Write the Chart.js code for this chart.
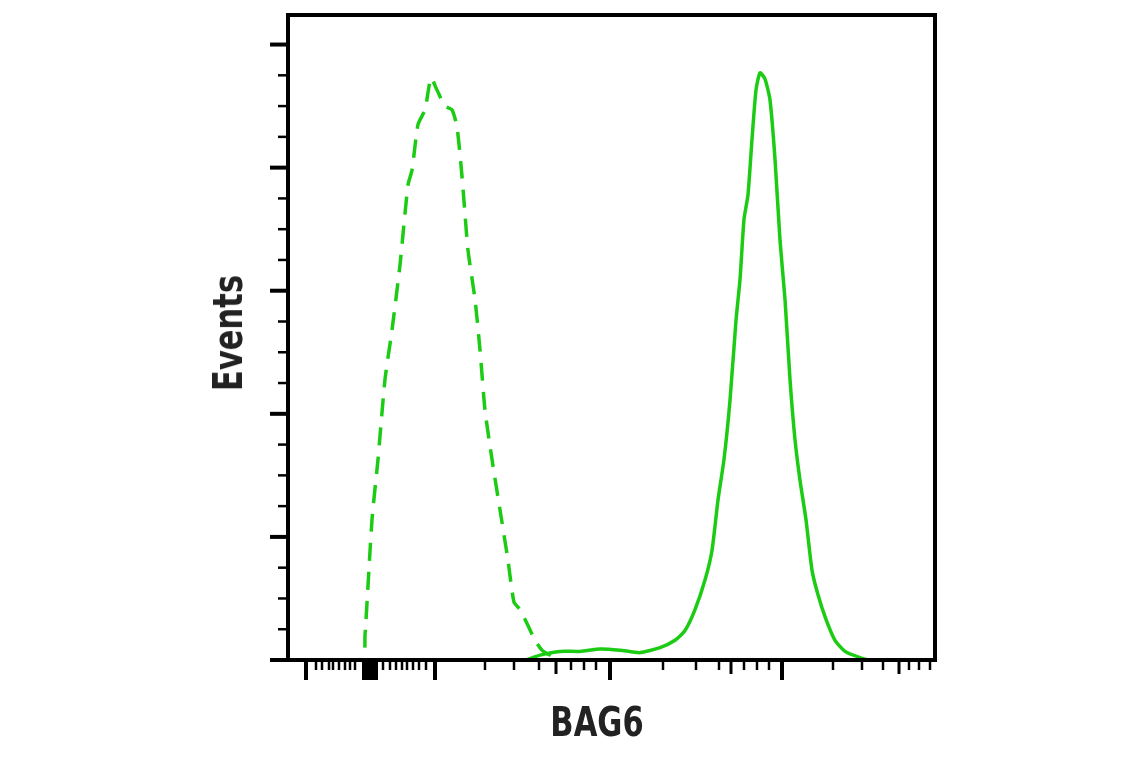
<!DOCTYPE html>
<html>
<head>
<meta charset="utf-8">
<script src="https://cdn.jsdelivr.net/npm/chart.js@4"></script>
<style>
  body { margin: 0; background: #fff; }
  #wrap { position: relative; width: 1141px; height: 768px; }
  .lbl { position: absolute; font-family: 'Liberation Sans Narrow', 'DejaVu Sans Condensed', sans-serif; font-weight: bold; font-size: 40px; color: #222; }
  #xl { left: 597px; top: 722px; transform: translate(-50%, -50%) scaleX(0.85); }
  #yl { left: 228px; top: 333px; transform: translate(-50%, -50%) rotate(-90deg) scaleX(0.85); }
</style>
</head>
<body>
<div id="wrap">
<canvas id="c" width="1141" height="768"></canvas>
<div class="lbl" id="xl">BAG6</div>
<div class="lbl" id="yl">Events</div>
</div>
<script>
// isotype control (dashed)
let control_x = [0, 74, 77, 84, 90, 97, 104, 112, 120, 124, 130, 137, 143, 149, 157, 164, 169, 174, 180, 187, 192, 197, 204, 212, 220, 226, 232, 240, 247, 254, 262, 272, 647];
let control_y = [0, 0, 20, 114, 163, 228, 268, 321, 386, 398, 435, 447, 473, 463, 450, 447, 433, 393, 333, 293, 252, 203, 163, 122, 81, 47, 41, 28, 16, 8, 4, 0, 0];
// BAG6 (solid)
let bag6_x = [0, 237, 252, 272, 292, 312, 332, 352, 372, 387, 397, 407, 417, 424, 430, 436, 442, 448, 452, 456, 460, 464, 468, 472, 477, 482, 487, 492, 497, 502, 507, 512, 518, 524, 530, 538, 547, 557, 572, 582, 647];
let bag6_y = [0, 0, 4, 7, 7, 9, 8, 6, 10, 16, 24, 41, 65, 89, 130, 163, 211, 276, 309, 358, 378, 423, 463, 477, 472, 455, 407, 341, 293, 228, 179, 146, 114, 73, 53, 33, 16, 7, 2, 0, 0];

// axis tick positions (unlabeled)
let x_major = [18, 76, 79, 82, 85, 88, 147, 322, 494];
let x_medium = [268, 443, 611];
let x_minor = [28, 34, 41, 45, 51, 57, 62, 67, 95, 102, 108, 114, 119, 125, 131, 138, 197, 226, 251, 283, 296, 308, 375, 408, 431, 456, 469, 481, 545, 574, 595, 621, 631, 642];
let y_major = [0, 100, 200, 300, 400, 500];
let y_minor = [25, 50, 75, 125, 150, 175, 225, 250, 275, 325, 350, 375, 425, 450, 475];

const green = '#1ccc14';

function pts(xs, ys) { return xs.map((x, i) => ({x: x, y: ys[i]})); }

const axesPlugin = {
  id: 'axes',
  afterDraw(chart) {
    const ctx = chart.ctx, a = chart.chartArea;
    const xs = chart.scales.x, ys = chart.scales.y;
    ctx.save();
    ctx.strokeStyle = '#000';
    ctx.lineWidth = 4;
    ctx.strokeRect(a.left, a.top, a.right - a.left, a.bottom - a.top);
    function xt(list, len, w) {
      ctx.lineWidth = w;
      list.forEach(v => { const p = xs.getPixelForValue(v); ctx.beginPath(); ctx.moveTo(p, a.bottom); ctx.lineTo(p, a.bottom + len); ctx.stroke(); });
    }
    function yt(list, len, w) {
      ctx.lineWidth = w;
      list.forEach(v => { const p = ys.getPixelForValue(v); ctx.beginPath(); ctx.moveTo(a.left, p); ctx.lineTo(a.left - len, p); ctx.stroke(); });
    }
    xt(x_major, 20, 4); xt(x_medium, 14, 3); xt(x_minor, 10, 2.5);
    yt(y_major, 18, 4); yt(y_minor, 10, 2.5);
    ctx.restore();
  }
};

new Chart(document.getElementById('c'), {
  type: 'line',
  data: {
    datasets: [
      { data: pts(control_x, control_y), borderColor: green, borderWidth: 3.5, borderDash: [18, 11], pointRadius: 0, tension: 0.2 },
      { data: pts(bag6_x, bag6_y), borderColor: green, borderWidth: 3.5, pointRadius: 0, tension: 0.2 }
    ]
  },
  options: {
    responsive: false,
    animation: false,
    layout: { padding: { left: 288, right: 206, top: 15, bottom: 108 } },
    plugins: { legend: { display: false }, tooltip: { enabled: false } },
    scales: {
      x: { type: 'linear', min: 0, max: 647, display: false },
      y: { min: 0, max: 524, display: false }
    }
  },
  plugins: [axesPlugin]
});
</script>
</body>
</html>
